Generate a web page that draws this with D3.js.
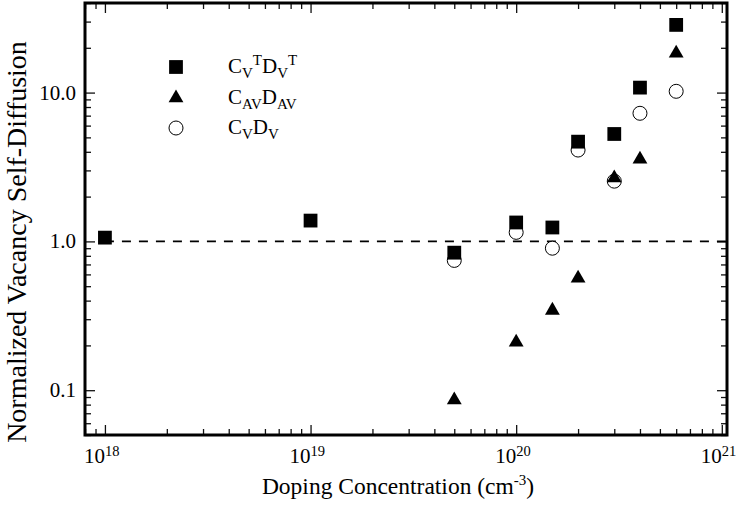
<!DOCTYPE html>
<html>
<head>
<meta charset="utf-8">
<script src="https://cdn.jsdelivr.net/npm/d3@7"></script>
<style>
  body { margin: 0; background: #fff; }
  svg { display: block; font-family: "Liberation Serif", "DejaVu Serif", serif; }
</style>
</head>
<body>
<div class="chart"></div>
<script>
// doping concentration (cm-3)
const conc = [1e18, 1e19, 5e19, 1e20, 1.5e20, 2e20, 3e20, 4e20, 6e20];
// normalized vacancy self-diffusion
const cvtdvt = [1.06, 1.38, 0.84, 1.34, 1.24, 4.68, 5.27, 10.8, 28.5];
const cavdav = [null, null, 0.086, 0.21, 0.344, 0.565, 2.67, 3.56, 18.4];
const cvdv = [null, null, 0.745, 1.15, 0.9, 4.11, 2.54, 7.26, 10.2];

const xTicks = [1e18, 1e19, 1e20, 1e21];
const xTickExp = ["18", "19", "20", "21"];
const yTicks = [0.1, 1, 10];
const yTickLabels = ["0.1", "1.0", "10.0"];

const w = 738, h = 505;
const pLeft = 85, pRight = 727, pTop = 3, pBottom = 435;

const svg = d3.select(".chart").append("svg")
  .attr("width", w).attr("height", h);

const x = d3.scaleLog().domain([8e17, 1.06e21]).range([pLeft, pRight]);
const y = d3.scaleLog().domain([0.05, 40]).range([pBottom, pTop]);

const xMinor = x.ticks().filter(v => !xTicks.includes(v));
const yMinor = y.ticks().filter(v => !yTicks.some(t => Math.abs(t - v) < 1e-9));

// ticks, all pointing inwards
const addAxis = (axisFn, scale, vals, size, tx, ty) => {
  const g = svg.append("g")
    .attr("transform", `translate(${tx},${ty})`)
    .call(axisFn(scale).tickValues(vals).tickSize(size).tickFormat(""));
  g.select(".domain").remove();
  g.selectAll("line").attr("stroke", "#111").attr("stroke-width", 1.3);
  return g;
};
addAxis(d3.axisBottom, x, xTicks, -10, 0, pBottom);
addAxis(d3.axisBottom, x, xMinor, -6, 0, pBottom);
addAxis(d3.axisTop, x, xTicks, -10, 0, pTop);
addAxis(d3.axisTop, x, xMinor, -6, 0, pTop);
addAxis(d3.axisLeft, y, yTicks, -10, pLeft, 0);
addAxis(d3.axisLeft, y, yMinor, -6, pLeft, 0);
addAxis(d3.axisRight, y, yTicks, -10, pRight, 0);
addAxis(d3.axisRight, y, yMinor, -6, pRight, 0);

// frame
svg.append("rect")
  .attr("x", pLeft).attr("y", pTop)
  .attr("width", pRight - pLeft).attr("height", pBottom - pTop)
  .attr("fill", "none").attr("stroke", "#000").attr("stroke-width", 3);

// tick labels
const xl = svg.append("g").selectAll("text")
  .data(xTicks).enter().append("text")
  .attr("x", d => x(d) - 21)
  .attr("y", pBottom + 28)
  .attr("font-size", 21);
xl.append("tspan").text("10");
xl.append("tspan").attr("font-size", 14.5).attr("dy", -7).text((d, i) => xTickExp[i]);

svg.append("g").selectAll("text")
  .data(yTicks).enter().append("text")
  .attr("x", pLeft - 9)
  .attr("y", d => y(d) + 7)
  .attr("text-anchor", "end")
  .attr("font-size", 21)
  .text((d, i) => yTickLabels[i]);

// axis titles
const xt = svg.append("text")
  .attr("x", 398).attr("y", 494)
  .attr("text-anchor", "middle")
  .attr("font-size", 23.5);
xt.append("tspan").text("Doping Concentration (cm");
xt.append("tspan").attr("font-size", 15).attr("dy", -9).text("-3");
xt.append("tspan").attr("dy", 9).text(")");

svg.append("text")
  .attr("transform", "translate(26,242) rotate(-90)")
  .attr("text-anchor", "middle")
  .attr("font-size", 28)
  .text("Normalized Vacancy Self-Diffusion");

// reference line at 1.0
svg.append("line")
  .attr("x1", x(1e18)).attr("x2", pRight)
  .attr("y1", y(1)).attr("y2", y(1))
  .attr("stroke", "#000").attr("stroke-width", 1.6)
  .attr("stroke-dasharray", "9,8");

// markers
const square = d3.symbol().type(d3.symbolSquare).size(190);
const tri = d3.symbol().type(d3.symbolTriangle).size(95);

const pts = vals => conc.map((c, i) => ({ c, v: vals[i] })).filter(d => d.v != null);

svg.append("g").selectAll("circle")
  .data(pts(cvdv)).enter().append("circle")
  .attr("cx", d => x(d.c)).attr("cy", d => y(d.v))
  .attr("r", 7)
  .attr("fill", "#fff").attr("stroke", "#000").attr("stroke-width", 1);

svg.append("g").selectAll("path")
  .data(pts(cavdav)).enter().append("path")
  .attr("d", tri)
  .attr("transform", d => `translate(${x(d.c)},${y(d.v)})`)
  .attr("fill", "#000");

svg.append("g").selectAll("path")
  .data(pts(cvtdvt)).enter().append("path")
  .attr("d", square)
  .attr("transform", d => `translate(${x(d.c)},${y(d.v)})`)
  .attr("fill", "#000");

// legend
const legend = svg.append("g");
legend.append("path").attr("d", square).attr("transform", "translate(176,67)").attr("fill", "#000");
legend.append("path").attr("d", tri).attr("transform", "translate(176,98)").attr("fill", "#000");
legend.append("circle").attr("cx", 176).attr("cy", 128).attr("r", 7)
  .attr("fill", "#fff").attr("stroke", "#000").attr("stroke-width", 1);

const legText = (yy, parts) => {
  const t = legend.append("text").attr("x", 228).attr("y", yy).attr("font-size", 21);
  parts.forEach(([s, kind]) => {
    const sp = t.append("tspan").text(s);
    if (kind === "sub") sp.attr("font-size", 15).attr("dy", 5);
    if (kind === "sup") sp.attr("font-size", 15).attr("dy", -13);
    if (kind === "back") sp.attr("dy", 8);
    if (kind === "back0") sp.attr("dy", -5);
  });
};
legText(73, [["C"], ["V", "sub"], ["T", "sup"], ["D", "back"], ["V", "sub"], ["T", "sup"]]);
legText(104, [["C"], ["AV", "sub"], ["D", "back0"], ["AV", "sub"]]);
legText(134, [["C"], ["V", "sub"], ["D", "back0"], ["V", "sub"]]);
</script>
</body>
</html>
